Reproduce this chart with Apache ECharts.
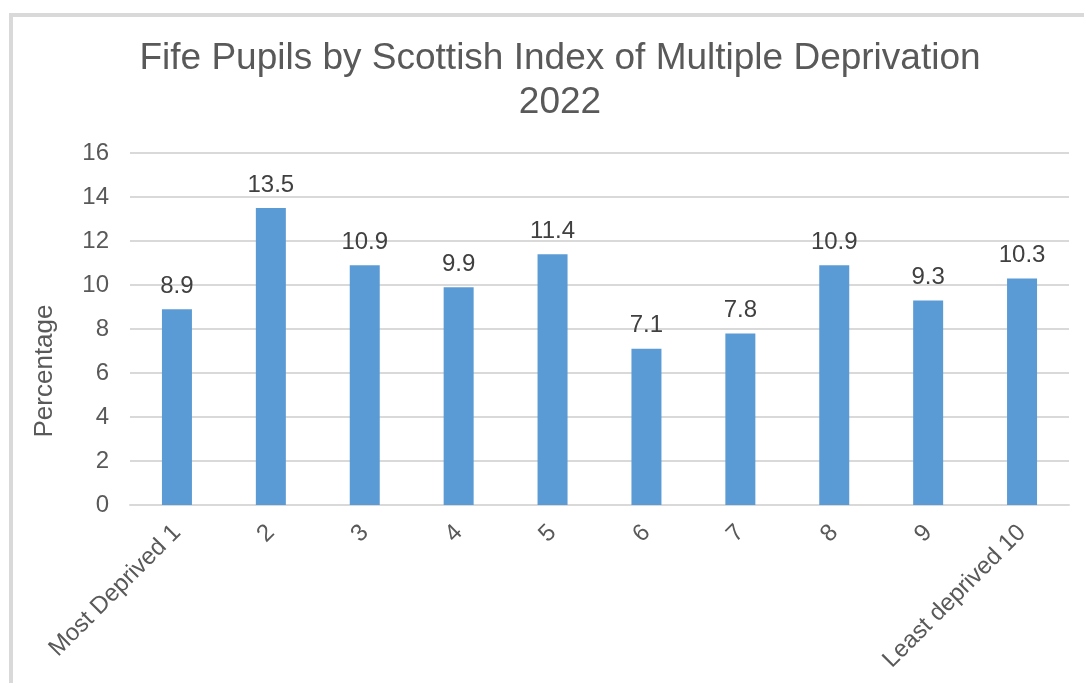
<!DOCTYPE html>
<html><head><meta charset="utf-8">
<script src="https://cdn.jsdelivr.net/npm/echarts@6/dist/echarts.min.js"></script>
<style>html,body{margin:0;padding:0;background:#fff}#c{width:1084px;height:683px}</style>
</head><body><div id="c"></div>
<script>
const categories = ['Most Deprived 1','2','3','4','5','6','7','8','9','Least deprived 10'];
const percentages = [8.9, 13.5, 10.9, 9.9, 11.4, 7.1, 7.8, 10.9, 9.3, 10.3];
const titleText = 'Fife Pupils by Scottish Index of Multiple Deprivation\n2022';
const yName = 'Percentage';

const chart = echarts.init(document.getElementById('c'), null, {renderer:'canvas'});
const font = '"Liberation Sans", Arial, sans-serif';
chart.setOption({
  animation:false,
  backgroundColor:'#fff',
  graphic:[
    {type:'rect', shape:{x:11,y:15,width:1200,height:800}, style:{fill:'none', stroke:'#D9D9D9', lineWidth:4}, silent:true},
    {type:'text', x:45, y:371, rotation:Math.PI/2, silent:true,
      style:{text:yName, fontFamily:font, fontSize:26, fill:'#595959', align:'center', verticalAlign:'middle'}}
  ],
  title:{text:titleText, left:555, top:32, textAlign:'center',
    textStyle:{fontFamily:font, fontSize:37, fontWeight:'normal', color:'#595959', lineHeight:44}},
  grid:{left:130, right:15, top:153, bottom:178},
  xAxis:{type:'category', data:categories,
    axisLine:{lineStyle:{color:'#D9D9D9', width:2}},
    axisTick:{show:false},
    axisLabel:{rotate:45, interval:0, margin:24, color:'#595959', fontFamily:font, fontSize:24}},
  yAxis:{type:'value', min:0, max:16, interval:2,
    axisLine:{show:false}, axisTick:{show:false},
    splitLine:{lineStyle:{color:'#D9D9D9', width:2}},
    axisLabel:{margin:21, color:'#595959', fontFamily:font, fontSize:24}},
  series:[{type:'bar', data:percentages, barWidth:30,
    itemStyle:{color:'#5B9BD5'},
    label:{show:true, position:'top', distance:11, color:'#404040', fontFamily:font, fontSize:24,
      formatter:p=>p.value.toFixed(1)}}]
});
</script></body></html>
